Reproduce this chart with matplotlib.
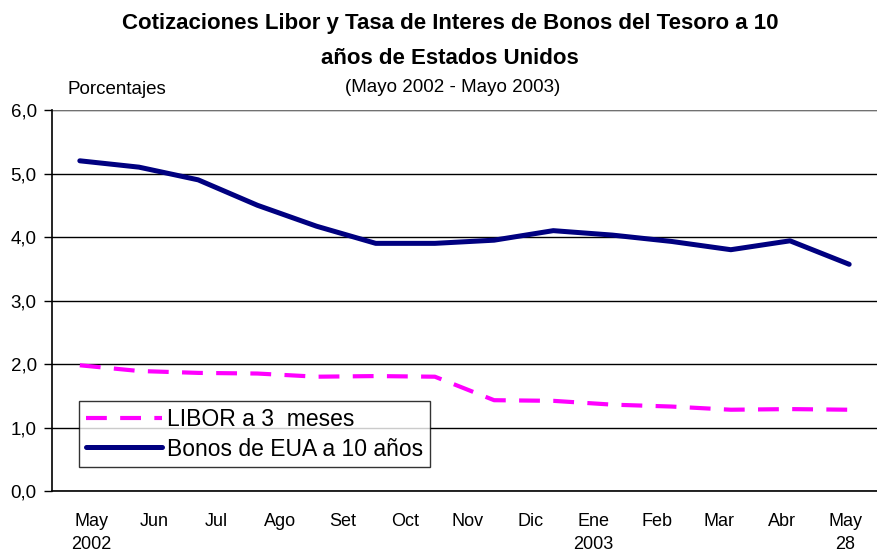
import matplotlib as mpl
mpl.use('Agg')
import matplotlib.pyplot as plt
import numpy as np
from matplotlib.ticker import FuncFormatter

plt.rcParams['font.family'] = ['Liberation Sans', 'DejaVu Sans']

# 14 observations, May 2002 - May 28 2003
libor = [1.98, 1.89, 1.86, 1.85, 1.80, 1.81, 1.80, 1.43, 1.42, 1.36,
         1.33, 1.28, 1.29, 1.28]
bonos = [5.20, 5.10, 4.90, 4.50, 4.17, 3.90, 3.90, 3.95, 4.10, 4.03,
         3.93, 3.80, 3.94, 3.57]
month_labels = ['May\n2002', 'Jun', 'Jul', 'Ago', 'Set', 'Oct', 'Nov', 'Dic',
                'Ene\n2003', 'Feb', 'Mar', 'Abr', 'May\n28']

fig = plt.figure(figsize=(8.77, 5.55), dpi=100)
ax = fig.add_axes([0.0593, 0.1153, 0.9407, 0.6865])

x = np.arange(len(bonos))
ax.plot(x, libor, color='#FF00FF', lw=3.0, linestyle=(0, (5, 3.2)),
        label='LIBOR a 3  meses', solid_capstyle='butt', dash_capstyle='butt')
ax.plot(x, bonos, color='#000080', lw=3.6, label='Bonos de EUA a 10 años',
        solid_capstyle='round', solid_joinstyle='round')

ax.set_xlim(-0.47, 13.47)
ax.set_ylim(0, 6)
ax.set_yticks(np.arange(0, 7, 1))
ax.yaxis.set_major_formatter(FuncFormatter(lambda v, p: ('%.1f' % v).replace('.', ',')))
ax.yaxis.grid(True, color='black', lw=1.0)
ax.set_axisbelow(True)
ax.tick_params(axis='y', direction='out', length=6, width=1, labelsize=13.5, pad=5)

# month labels are spread a little wider than the data points
ax.set_xticks(np.linspace(0.19, 12.93, len(month_labels)))
ax.set_xticklabels(month_labels, fontsize=13, linespacing=1.45, va='top',
                   family=['Liberation Sans Narrow', 'Liberation Sans'])
ax.tick_params(axis='x', length=0, pad=16)

for s in ['top', 'right']:
    ax.spines[s].set_visible(False)
ax.spines['left'].set_linewidth(1.2)
ax.spines['bottom'].set_linewidth(1.2)
ax.axhline(6, color='#888888', lw=1.2)

leg = ax.legend(loc='lower left', bbox_to_anchor=(0.033, 0.062), fontsize=16.5,
                frameon=True, fancybox=False, handlelength=3.3,
                handletextpad=0.25, borderpad=0.3, labelspacing=0.3,
                borderaxespad=0)
leg.get_frame().set_edgecolor('black')
leg.get_frame().set_linewidth(1.0)

fig.text(0.513, 0.958, 'Cotizaciones Libor y Tasa de Interes de Bonos del Tesoro a 10',
         ha='center', va='center', fontsize=16, fontweight='bold')
fig.text(0.513, 0.895, 'años de Estados Unidos',
         ha='center', va='center', fontsize=16, fontweight='bold')
fig.text(0.516, 0.842, '(Mayo 2002 - Mayo 2003)', ha='center', va='center',
         fontsize=13.5)
fig.text(0.077, 0.838, 'Porcentajes', ha='left', va='center', fontsize=13.5)

plt.savefig('out.png')
